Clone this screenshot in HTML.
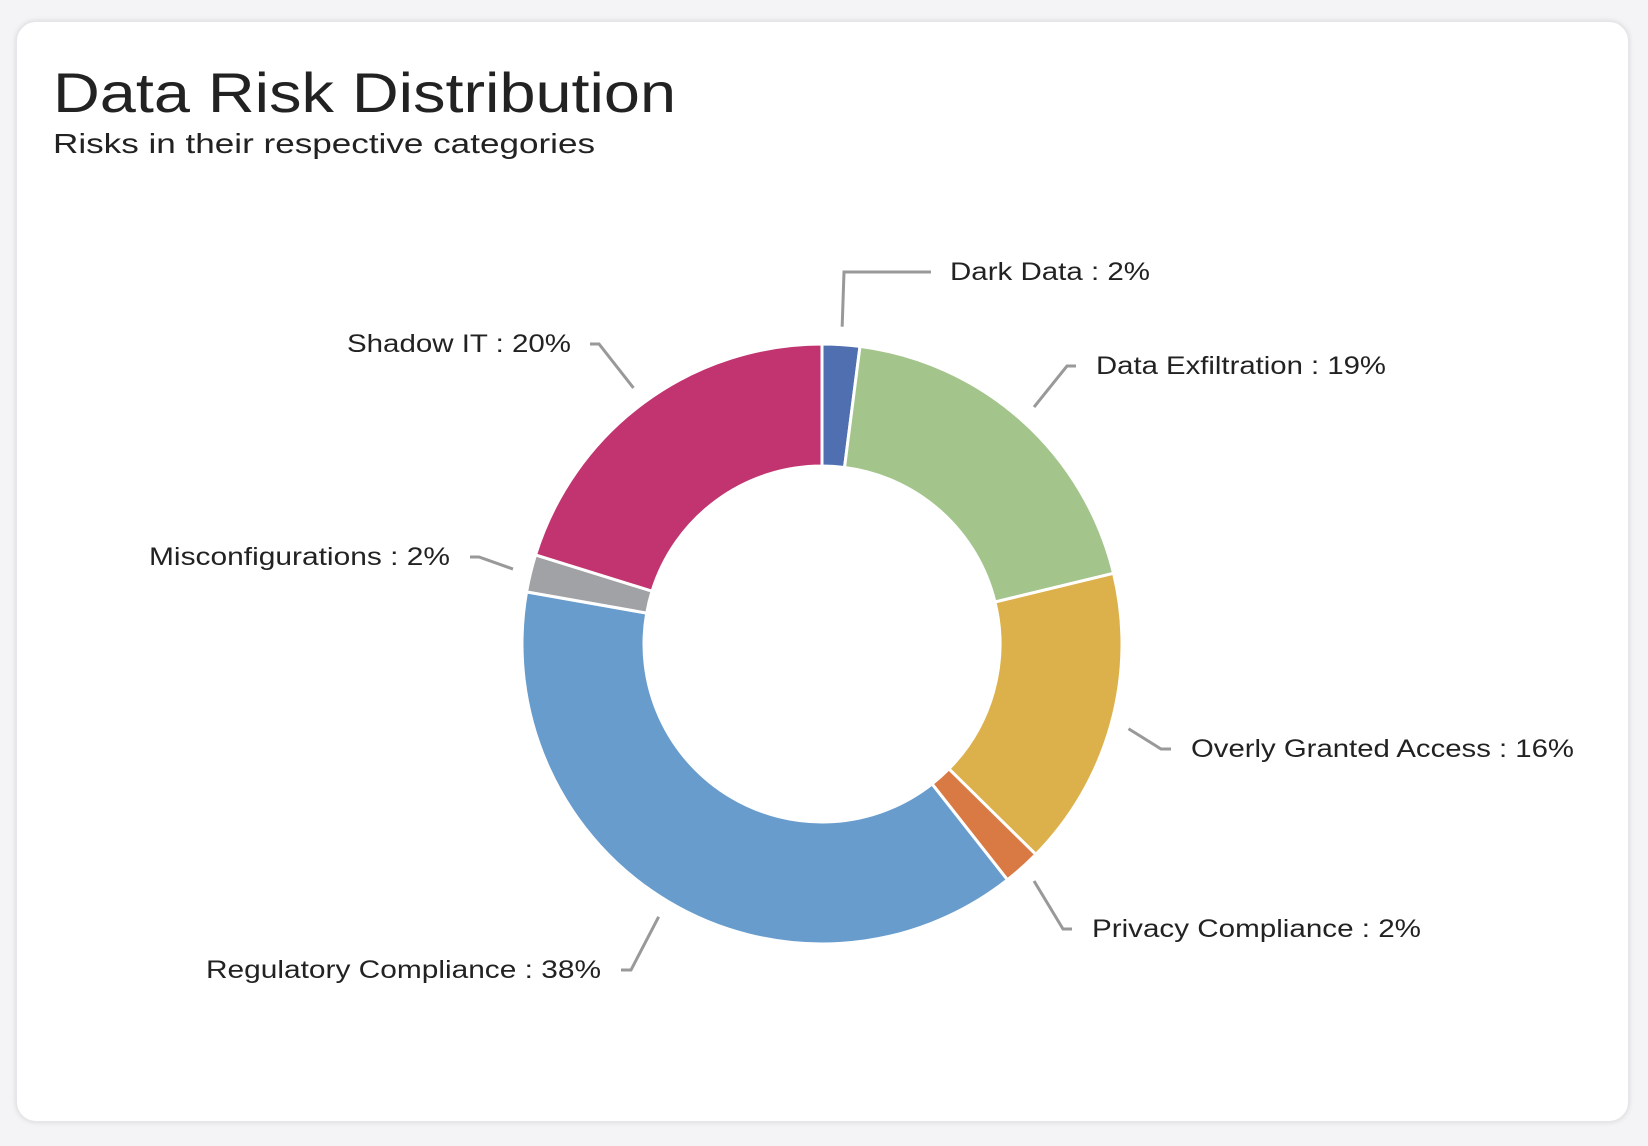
<!DOCTYPE html>
<html><head><meta charset="utf-8"><style>
html,body{margin:0;padding:0;background:#f4f4f6;width:1648px;height:1146px;overflow:hidden}
#card{position:absolute;left:16px;top:21px;width:1613px;height:1101px;background:#fff;border-radius:20px;box-shadow:0 0 6px rgba(0,0,0,0.12);border:1px solid #e6e6ea;box-sizing:border-box}
svg{position:absolute;left:0;top:0}
text{font-family:"Liberation Sans",sans-serif;fill:#222}
</style></head><body>
<div id="card"></div>
<svg id="chart" width="1648" height="1146">
<text x="53" y="112" font-size="56" textLength="623" lengthAdjust="spacingAndGlyphs">Data Risk Distribution</text>
<text x="53" y="153" font-size="28" textLength="542" lengthAdjust="spacingAndGlyphs">Risks in their respective categories</text>
</svg>
<script>
const categories=["Dark Data","Data Exfiltration","Overly Granted Access","Privacy Compliance","Regulatory Compliance","Misconfigurations","Shadow IT"];
const values=[2,19,16,2,38,2,20];
const colors=["#4f6fb0","#a3c48b","#dcb14b","#d97a45","#689ccd","#a0a2a5","#c13470"];
const NS="http://www.w3.org/2000/svg";
const svg=document.getElementById('chart');
const cx=822,cy=644,R=300,r=178;
// label layout: [textX, baseline, width, elbowX, endX]
const layout=[[950,280,200,844,931],[1096,374,290,1067,1076],[1191,757,383,1161,1171],[1092,937,329,1063,1072],[206,978,395,631,621],[149,565,301,479,470],[347,352,224,599,590]];
const total=values.reduce((a,b)=>a+b,0);
function pt(a,rad){return [cx+rad*Math.sin(a),cy-rad*Math.cos(a)];}
let acc=0;
values.forEach((v,i)=>{
  const a0=acc/total*2*Math.PI; acc+=v; const a1=acc/total*2*Math.PI;
  const large=(a1-a0)>Math.PI?1:0;
  const p0=pt(a0,R),p1=pt(a1,R),q1=pt(a1,r),q0=pt(a0,r);
  const path=document.createElementNS(NS,'path');
  path.setAttribute('d',`M${p0[0]},${p0[1]}A${R},${R} 0 ${large} 1 ${p1[0]},${p1[1]}L${q1[0]},${q1[1]}A${r},${r} 0 ${large} 0 ${q0[0]},${q0[1]}Z`);
  path.setAttribute('fill',colors[i]);path.setAttribute('stroke','#fff');path.setAttribute('stroke-width','3');
  
  
  svg.appendChild(path);
  const am=(a0+a1)/2, L=layout[i];
  const s=pt(am,R+18);
  const ey=L[1]-8;
  const line=document.createElementNS(NS,'polyline');
  line.setAttribute('points',`${s[0]},${s[1]} ${L[3]},${ey} ${L[4]},${ey}`);
  line.setAttribute('fill','none');line.setAttribute('stroke','#999');line.setAttribute('stroke-width','3');
  
  
  svg.appendChild(line);
  const t=document.createElementNS(NS,'text');
  t.setAttribute('x',L[0]);t.setAttribute('y',L[1]);t.setAttribute('font-size','25');
  t.setAttribute('textLength',L[2]);t.setAttribute('lengthAdjust','spacingAndGlyphs');
  t.textContent=categories[i]+' : '+values[i]+'%';
  
  
  svg.appendChild(t);
});
</script>
</body></html>
